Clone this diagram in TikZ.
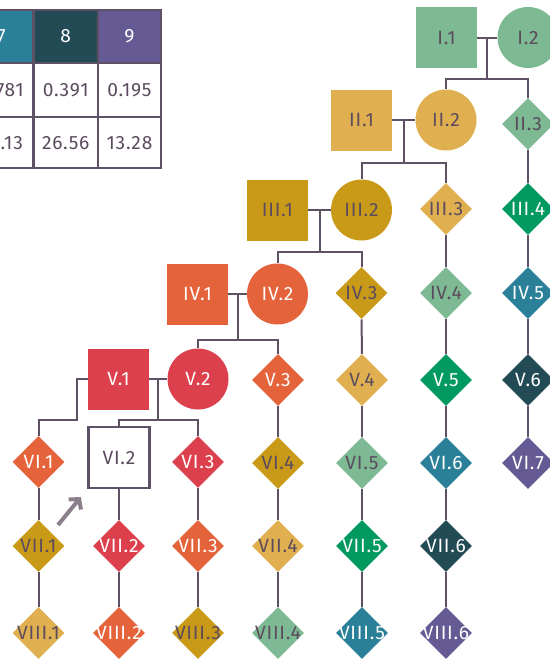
\documentclass[tikz,border=0pt]{standalone}
\usepackage{fontspec}
\setmainfont{Fira Sans}[LetterSpace=4]
\usetikzlibrary{shapes.geometric, calc, arrows.meta}

\definecolor{sageC}{HTML}{7DB993}
\definecolor{sandC}{HTML}{E0B050}
\definecolor{goldC}{HTML}{C99A17}
\definecolor{flameC}{HTML}{E4633A}
\definecolor{rubyC}{HTML}{DC404C}
\definecolor{jadeC}{HTML}{00995F}
\definecolor{seaC}{HTML}{2A8098}
\definecolor{pineC}{HTML}{224B55}
\definecolor{plumC}{HTML}{655A93}
\definecolor{lineC}{HTML}{5E5165}
\definecolor{inkC}{HTML}{5B4B5E}
\definecolor{arrowC}{HTML}{8C7F8C}

\begin{document}
\begin{tikzpicture}[x=0.5pt, y=-0.5pt, font=\fontsize{9.6}{11}\selectfont,
    sq/.style={rectangle, minimum size=30.5pt, inner sep=0pt},
    ci/.style={circle, minimum size=30.5pt, inner sep=0pt},
    di/.style={diamond, minimum size=26pt, inner sep=0pt, inner xsep=-7pt},
    sage/.style={fill=sageC, text=inkC},
    sand/.style={fill=sandC, text=inkC},
    gold/.style={fill=goldC, text=inkC},
    flame/.style={fill=flameC, text=white},
    ruby/.style={fill=rubyC, text=white},
    jade/.style={fill=jadeC, text=white},
    sea/.style={fill=seaC, text=white},
    pine/.style={fill=pineC, text=white},
    plum/.style={fill=plumC, text=white},
    link/.style={draw=lineC, line width=1pt},
    tbl/.style={draw=lineC, line width=1.2pt}]
    \useasboundingbox (0,0) rectangle (550,659);
    \clip (0,0) rectangle (550,659);

    % table
    \foreach \c/\l/\r/\col/\p/\q in {7/-30.5/33.5/seaC/0.781/53.13, 8/33.5/98/pineC/0.391/26.56, 9/98/161/plumC/0.195/13.28} {
        \fill[\col] (\l,10) rectangle (\r,63);
        \node[text=white] at ({(\l+\r)/2},36.5) {\c};
        \node[text=inkC] at ({(\l+\r)/2},90) {\p};
        \node[text=inkC] at ({(\l+\r)/2},143) {\q};
    }
    \draw[tbl] (-30.5,10) rectangle (161,168);
    \draw[tbl] (-30.5,63) -- (161,63) (-30.5,117) -- (161,117);
    \draw[tbl] (33.5,10) -- (33.5,168) (98,10) -- (98,168);

    % generation I-V
    \node[sq, sage] (I1) at (446.5,37.5) {I.1};
    \node[ci, sage] (I2) at (528,37.5) {I.2};
    \node[sq, sand] (II1) at (361.5,120) {II.1};
    \node[ci, sand] (II2) at (446,120) {II.2};
    \node[di, sage] (II3) at (528,124) {II.3};
    \node[sq, gold] (III1) at (277.5,210) {III.1};
    \node[ci, gold] (III2) at (361.5,210) {III.2};
    \node[di, sand] (III3) at (446,209) {III.3};
    \node[di, jade] (III4) at (528,209) {III.4};
    \node[sq, flame] (IV1) at (197.5,294) {IV.1};
    \node[ci, flame] (IV2) at (277.5,294) {IV.2};
    \node[di, gold] (IV3) at (361.5,293) {IV.3};
    \node[di, sage] (IV4) at (446,293) {IV.4};
    \node[di, sea] (IV5) at (528,293) {IV.5};
    \node[sq, ruby] (V1) at (118.5,379) {V.1};
    \node[ci, ruby] (V2) at (198,379) {V.2};
    \node[di, flame] (V3) at (278,380) {V.3};
    \node[di, sand] (V4) at (362,380) {V.4};
    \node[di, jade] (V5) at (446,380) {V.5};
    \node[di, pine] (V6) at (528,380) {V.6};

    % generation VI-VIII
    \node[di, flame] (VI1) at (38.5,462) {VI.1};
    \node[sq, fill=white, draw=lineC, line width=1.3pt, text=inkC] (VI2) at (119,457.5) {VI.2};
    \node[di, ruby] (VI3) at (198,462) {VI.3};
    \node[di, gold] (VI4) at (278,463) {VI.4};
    \node[di, sage] (VI5) at (362,463) {VI.5};
    \node[di, sea] (VI6) at (446,463) {VI.6};
    \node[di, plum] (VI7) at (528,463) {VI.7};
    \node[di, gold] (VII1) at (38.5,546) {VII.1};
    \node[di, ruby] (VII2) at (119,546) {VII.2};
    \node[di, flame] (VII3) at (198,546) {VII.3};
    \node[di, sand] (VII4) at (278,546) {VII.4};
    \node[di, jade] (VII5) at (362,546) {VII.5};
    \node[di, pine] (VII6) at (446,546) {VII.6};
    \node[di, sand] (VIII1) at (38.5,633) {VIII.1};
    \node[di, flame] (VIII2) at (119,633) {VIII.2};
    \node[di, gold] (VIII3) at (198,633) {VIII.3};
    \node[di, sage] (VIII4) at (278,633) {VIII.4};
    \node[di, sea] (VIII5) at (362,633) {VIII.5};
    \node[di, plum] (VIII6) at (446,633) {VIII.6};

    % couples and sibling bars
    \foreach \m/\f/\a/\b/\y in {I1/I2/II2/II3/79, II1/II2/III2/III3/163, III1/III2/IV2/IV3/252, IV1/IV2/V2/V3/340, V1/V2/VI2/VI3/420} {
        \draw[link] (\m) -- (\f);
        \coordinate (mid) at ($(\m.east)!0.5!(\f.west)$);
        \coordinate (bar) at (mid |- 0,\y);
        \draw[link] (mid) -- (bar);
        \draw[link] (\a) |- (bar) -| (\b);
    }
    \coordinate (k1) at (77,420);
    \draw[link] (V1) -| (k1) -| (VI1);

    % lines of descent
    \foreach \a/\b in {II3/III4, III4/IV5, IV5/V6, V6/VI7,
                       III3/IV4, IV4/V5, V5/VI6, VI6/VII6, VII6/VIII6,
                       IV3/V4, V4/VI5, VI5/VII5, VII5/VIII5,
                       V3/VI4, VI4/VII4, VII4/VIII4,
                       VI3/VII3, VII3/VIII3,
                       VI2/VII2, VII2/VIII2,
                       VI1/VII1, VII1/VIII1}
        \draw[link] (\a) -- (\b);

    % proband
    \coordinate (tail) at (58,525);
    \draw[arrowC, line width=2pt, -{Straight Barb[length=3.5pt, width=8pt]}, shorten >=5pt] (tail) -- (VI2.south west);
\end{tikzpicture}
\end{document}
